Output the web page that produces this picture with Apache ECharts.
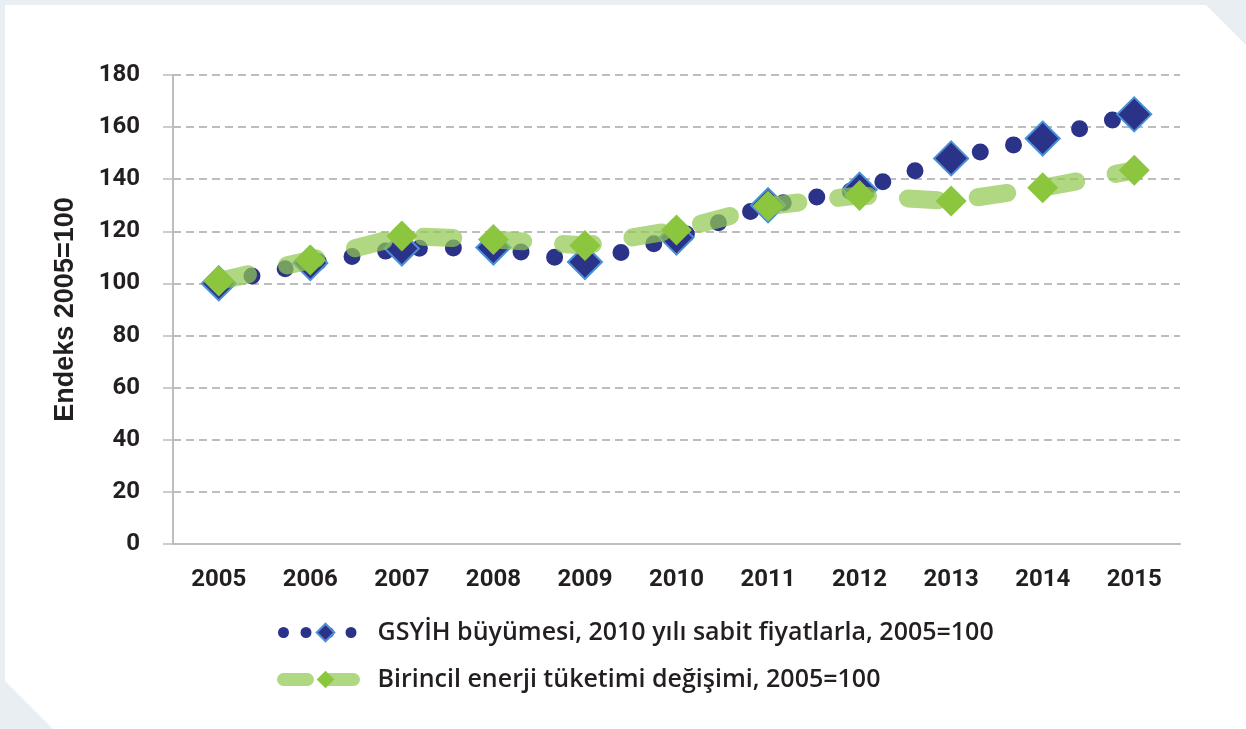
<!DOCTYPE html>
<html>
<head>
<meta charset="utf-8">
<script src="https://cdn.jsdelivr.net/npm/echarts@6/dist/echarts.min.js"></script>
<style>
  html, body { margin: 0; padding: 0; background: #e9eef2; }
  #chart { width: 1246px; height: 729px; }
</style>
</head>
<body>
<div id="chart"></div>
<script>
// kategoriler ve seriler
const years = ['2005', '2006', '2007', '2008', '2009', '2010', '2011', '2012', '2013', '2014', '2015'];
const gsyih = [100, 107.8, 113.4, 113.8, 108.2, 117.6, 130, 136, 148, 155.6, 164.9];
const enerji = [100.9, 109, 118.2, 116.9, 114.6, 120.5, 129.7, 133.8, 131.6, 136.7, 143.4];
const yTicks = [0, 20, 40, 60, 80, 100, 120, 140, 160, 180];

const nameGsyih = 'GSYİH büyümesi, 2010 yılı sabit fiyatlarla, 2005=100';
const nameEnerji = 'Birincil enerji tüketimi değişimi, 2005=100';

const navy = '#2b3388';
const green = '#8cc63f';
const txt = '#231f20';
const gridGray = '#bdbdbd';

let chart = echarts.init(document.getElementById('chart'));
chart.setOption({
  backgroundColor: '#e9eef2',
  animation: false,
  graphic: [{
    type: 'polygon',
    z: -10,
    silent: true,
    shape: { points: [[5, 5], [1206, 5], [1246, 45], [1246, 729], [53, 729], [5, 681]] },
    style: { fill: '#ffffff' }
  }],
  grid: { left: 173, right: 66, top: 75, bottom: 185 },
  legend: {
    orient: 'vertical',
    left: 272,
    top: 615,
    itemGap: 22,
    itemWidth: 84,
    itemHeight: 22,
    textStyle: { fontFamily: 'Open Sans', fontWeight: 600, fontSize: 25, color: txt, padding: [0, 0, 0, 5] },
    data: [{
      name: nameGsyih,
      lineStyle: { width: 11, type: [0, 22.5], cap: 'round' }
    }, {
      name: nameEnerji,
      lineStyle: { width: 13, type: [24, 22], cap: 'round' }
    }]
  },
  xAxis: {
    type: 'category',
    data: years,
    boundaryGap: true,
    axisLine: { lineStyle: { color: gridGray, width: 2 } },
    axisTick: { length: 8, lineStyle: { color: gridGray, width: 2 } },
    axisLabel: { margin: 24, fontFamily: 'Roboto', fontWeight: 'bold', fontSize: 24, color: txt }
  },
  yAxis: {
    type: 'value',
    min: yTicks[0],
    max: yTicks[yTicks.length - 1],
    interval: 20,
    name: 'Endeks 2005=100',
    nameLocation: 'middle',
    nameGap: 94,
    nameTextStyle: { fontFamily: 'Liberation Sans', fontWeight: 'bold', fontSize: 27, color: txt },
    axisLine: { show: true, lineStyle: { color: gridGray, width: 2 } },
    axisTick: { show: true, length: 10, lineStyle: { color: gridGray, width: 1.5 } },
    axisLabel: { margin: 33, fontFamily: 'Roboto', fontWeight: 'bold', fontSize: 24, color: txt },
    splitLine: { lineStyle: { color: gridGray, width: 2, type: [8, 5] } }
  },
  series: [{
    name: nameGsyih,
    type: 'line',
    data: gsyih,
    symbol: 'diamond',
    symbolSize: 34,
    itemStyle: { color: navy, borderColor: '#4a8fd8', borderWidth: 2 },
    lineStyle: { color: navy, width: 17, type: [0, 34], cap: 'round' },
    z: 2
  }, {
    name: nameEnerji,
    type: 'line',
    data: enerji,
    symbol: 'diamond',
    symbolSize: 31,
    itemStyle: { color: green },
    lineStyle: { color: 'rgba(145,200,80,0.72)', width: 18, type: [30, 40], cap: 'round' },
    z: 3
  }]
});
</script>
</body>
</html>
